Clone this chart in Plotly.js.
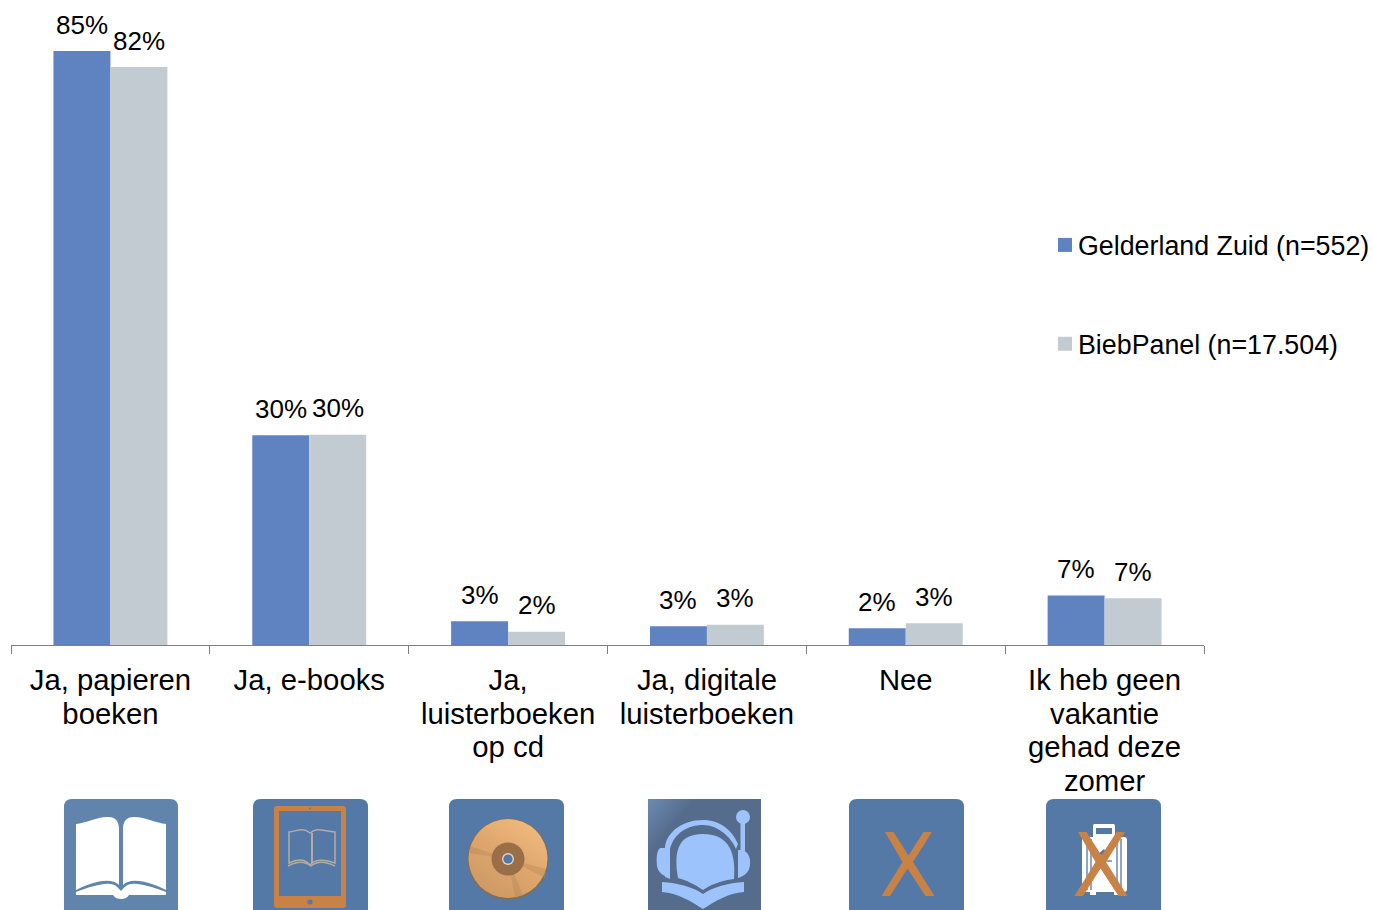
<!DOCTYPE html>
<html>
<head>
<meta charset="utf-8">
<script src="https://cdn.plot.ly/plotly-3.0.1.min.js"></script>
<style>html,body{margin:0;padding:0;background:#fff;overflow:hidden}#chart{width:1373px;height:910px}</style>
</head>
<body>
<div id="chart"></div>
<script>
const categories = ['Ja, papieren<br>boeken', 'Ja, e-books', 'Ja,<br>luisterboeken<br>op cd', 'Ja, digitale<br>luisterboeken', 'Nee', 'Ik heb geen<br>vakantie<br>gehad deze<br>zomer'];
const gelderlandZuid = [85.0, 30.0, 3.4, 2.7, 2.4, 7.1];
const biebPanel = [82.7, 30.1, 1.9, 2.9, 3.1, 6.7];
const gelderlandLabels = ['85%', '30%', '3%', '3%', '2%', '7%'];
const biebLabels = ['82%', '30%', '2%', '3%', '3%', '7%'];
const seriesNames = ['Gelderland Zuid (n=552)', 'BiebPanel (n=17.504)'];

const FONT = 'Liberation Sans, Arial, sans-serif';
const TICK_SIZE = 29.3, TICK_LINE = 33.6;
const W = 1373, H = 910, L = 11.4, R = 1204.4, BASE = 645;
const BG = '#5479a6', ORANGE = '#c98246';

function svg(w, h, body) {
  return 'data:image/svg+xml,' + encodeURIComponent(
    '<svg xmlns="http://www.w3.org/2000/svg" width="' + w + '" height="' + h + '" viewBox="0 0 ' + w + ' ' + h + '">' + body + '</svg>');
}
const tile = (w, h, c) => '<path d="M0,' + (h + 1) + 'V8Q0,0 8,0H' + (w - 8) + 'Q' + w + ',0 ' + w + ',8V' + (h + 1) + 'Z" fill="' + c + '"/>';
const CROSS = 'M36,33H44.5L59.5,56.5L74.5,33H83L64,63L85.5,97H76.5L58.5,69.5L41,97H32.5L53.5,63Z';

const iconBook = svg(114, 111, tile(114, 111, '#6184ad') +
  '<g fill="#fff"><path d="M12,25C22,24 35,17 45,18C51,18 55,22 55,30V86C50,80 35,79 12,91Z"/>' +
  '<path d="M102,25C92,24 79,17 69,18C63,18 59,22 59,30V86C64,80 79,79 102,91Z"/>' +
  '<path d="M12,93C26,88 38,84 46,85C52,85 54,89 57,92C60,89 62,85 68,85C76,84 88,88 102,93V96H65C63,99 60,100 57,100C54,100 51,99 49,96H12Z"/></g>');

const iconTablet = svg(115, 111, tile(115, 111, BG) +
  '<rect x="21" y="7" width="72" height="102" rx="3" fill="' + ORANGE + '"/>' +
  '<rect x="26" y="12" width="62" height="85" fill="' + BG + '"/>' +
  '<circle cx="57" cy="103" r="2.6" fill="' + BG + '"/><circle cx="57" cy="9.5" r="1" fill="' + BG + '"/>' +
  '<g fill="none" stroke="#b5aba3" stroke-width="1.5"><path d="M36,33C44,32 50,28 57,34C64,28 70,32 82,33V64C72,60 62,60 57,66C52,60 44,60 36,64Z"/>' +
  '<path d="M59,34V64" stroke-width="2"/><path d="M35,67C44,62 52,62 58,67C64,62 72,62 82,67"/></g>');

const iconDisc = svg(115, 111, '<defs><linearGradient id="g" x1="0.9" y1="0.1" x2="0.3" y2="1"><stop offset="0" stop-color="#f0ba7e"/><stop offset="0.5" stop-color="#dea66c"/><stop offset="1" stop-color="#cd9a66"/></linearGradient></defs>' +
  tile(115, 111, BG) +
  '<circle cx="59" cy="60" r="40.5" fill="#8a6a4c"/><circle cx="59" cy="59.5" r="39.5" fill="url(#g)"/>' +
  '<path d="M59,60L21,47L20,54Z M59,60L97,70L96,79Z M59,60L66,99L74,96Z" fill="#bb8a5c" opacity="0.45"/>' +
  '<circle cx="59" cy="60" r="16.5" fill="#9a6f48"/><circle cx="59" cy="60" r="6" fill="#e3d3bf"/><circle cx="59" cy="60" r="4.6" fill="' + BG + '"/>');

const iconAudio = svg(113, 111, '<defs><linearGradient id="b" x1="0" y1="0" x2="0.55" y2="0.45"><stop offset="0" stop-color="#6d8bb2"/><stop offset="0.45" stop-color="#566c8d"/></linearGradient></defs>' +
  '<rect width="113" height="112" fill="url(#b)"/>' +
  '<g fill="#9cc3fb"><circle cx="95" cy="18" r="7"/><rect x="92.5" y="20" width="4.5" height="36"/>' +
  '<path d="M30,79C26,55 28,35 55,35C82,35 88,55 86,80C72,82 62,86 55,91C48,86 38,81 30,79Z"/>' +
  '<path d="M17,48C19,32 36,21 55,21C72,21 84,31 90,45L88,50C83,38 70,26 55,26C40,26 26,34 22,50V80L17,78Z"/>' +
  '<path d="M12,49C9,52 8,58 9,67C10,73 14,76 19,78V49Z"/><path d="M90,51C98,50 103,56 102,66C101,74 96,77 90,79Z"/>' +
  '<path d="M14,83C30,84 45,88 55,95C65,88 80,84 96,83V93C80,94 68,102 55,110C42,102 30,94 14,93Z"/></g>');

const iconCross = svg(115, 111, tile(115, 111, BG) + '<path d="' + CROSS + '" fill="' + ORANGE + '"/>');

const iconCase = svg(115, 111, tile(115, 111, BG) +
  '<rect x="47" y="25" width="22" height="14" rx="1.5" fill="#fff"/><rect x="50" y="29" width="16" height="6" fill="' + BG + '"/>' +
  '<rect x="36" y="38" width="45" height="55" rx="3" fill="#fff"/>' +
  '<g stroke="' + BG + '" stroke-width="1.3"><path d="M41,40V91M45,40V91M71,40V91M75,40V91"/><path d="M55,62H66"/></g>' +
  '<path d="M51,56L58,50L62,56Z" fill="' + BG + '"/>' +
  '<path d="M44,93V96H50V93ZM68,93V96H74V93Z" fill="#fff"/>' +
  '<path transform="translate(-4,0)" d="' + CROSS + '" fill="' + ORANGE + '"/>');

const px = x => (x - L) / (R - L);
const py = y => (BASE - y) / BASE;
const iconPlace = [[iconBook, 64.4, 114], [iconTablet, 253.4, 115], [iconDisc, 449.4, 115], [iconAudio, 648.4, 113], [iconCross, 849.4, 115], [iconCase, 1046.4, 115]];
const images = iconPlace.map(([src, x, w]) => ({
  source: src, xref: 'paper', yref: 'paper', x: px(x), y: py(799),
  sizex: w / (R - L), sizey: 111 / BASE, sizing: 'stretch', xanchor: 'left', yanchor: 'top', layer: 'above'
}));

const valueNote = (cat, y, text, shift) => ({
  x: cat, y, text, xref: 'x', yref: 'y', xshift: shift, yanchor: 'bottom', yshift: 9.5, showarrow: false,
  font: {family: FONT, size: 26, color: '#000'}
});
const annotations = [];
categories.forEach((c, i) => {
  annotations.push(valueNote(c, gelderlandZuid[i], gelderlandLabels[i], -28.5));
  annotations.push(valueNote(c, biebPanel[i], biebLabels[i], 28.5));
});

const traces = [
  {type: 'bar', name: seriesNames[0], x: categories, y: gelderlandZuid, marker: {color: '#5f83c1'}, legendgroup: 'a', hoverinfo: 'y'},
  {type: 'bar', name: seriesNames[1], x: categories, y: biebPanel, marker: {color: '#c3cbd2'}, legendgroup: 'b', hoverinfo: 'y'}
];

const layout = {
  width: W, height: H, paper_bgcolor: '#fff', plot_bgcolor: '#fff',
  margin: {l: L, r: W - R, t: 0, b: H - BASE, pad: 0, autoexpand: false},
  barmode: 'group', bargap: 0.427, bargroupgap: 0,
  font: {family: FONT, size: 26, color: '#000'},
  xaxis: {type: 'category', tickson: 'boundaries', ticks: 'outside', ticklen: 8, tickwidth: 1, tickcolor: '#7f7f7f',
    showline: true, linecolor: '#7f7f7f', linewidth: 1, showgrid: false, zeroline: false, tickangle: 0, automargin: false,
    ticklabelstandoff: 9, tickfont: {family: FONT, size: TICK_SIZE, color: '#000'}},
  yaxis: {range: [0, 92.3], visible: false, showgrid: false, zeroline: false, fixedrange: true},
  legend: {xref: 'container', yref: 'container', x: 1038 / W, y: 1 - 221 / H, xanchor: 'left', yanchor: 'top', traceorder: 'grouped', tracegroupgap: 61,
    bgcolor: 'rgba(0,0,0,0)', font: {family: FONT, size: 26.8, color: '#000'}, itemclick: false, itemdoubleclick: false},
  images, annotations, showlegend: true
};

Plotly.newPlot('chart', traces, layout, {displayModeBar: false, responsive: false}).then(gd => {
  gd.querySelectorAll('.legend .legendsymbols').forEach(g => g.setAttribute('transform', 'translate(27,0)'));
  gd.querySelectorAll('.legend .legendpoints path').forEach(p => { p.style.transform = 'scale(1.17)'; });
  gd.querySelectorAll('.xtick text').forEach(t => {
    t.querySelectorAll('tspan.line').forEach((s, i) => s.setAttribute('dy', (i * TICK_LINE) + 'px'));
  });
});
</script>
</body>
</html>
